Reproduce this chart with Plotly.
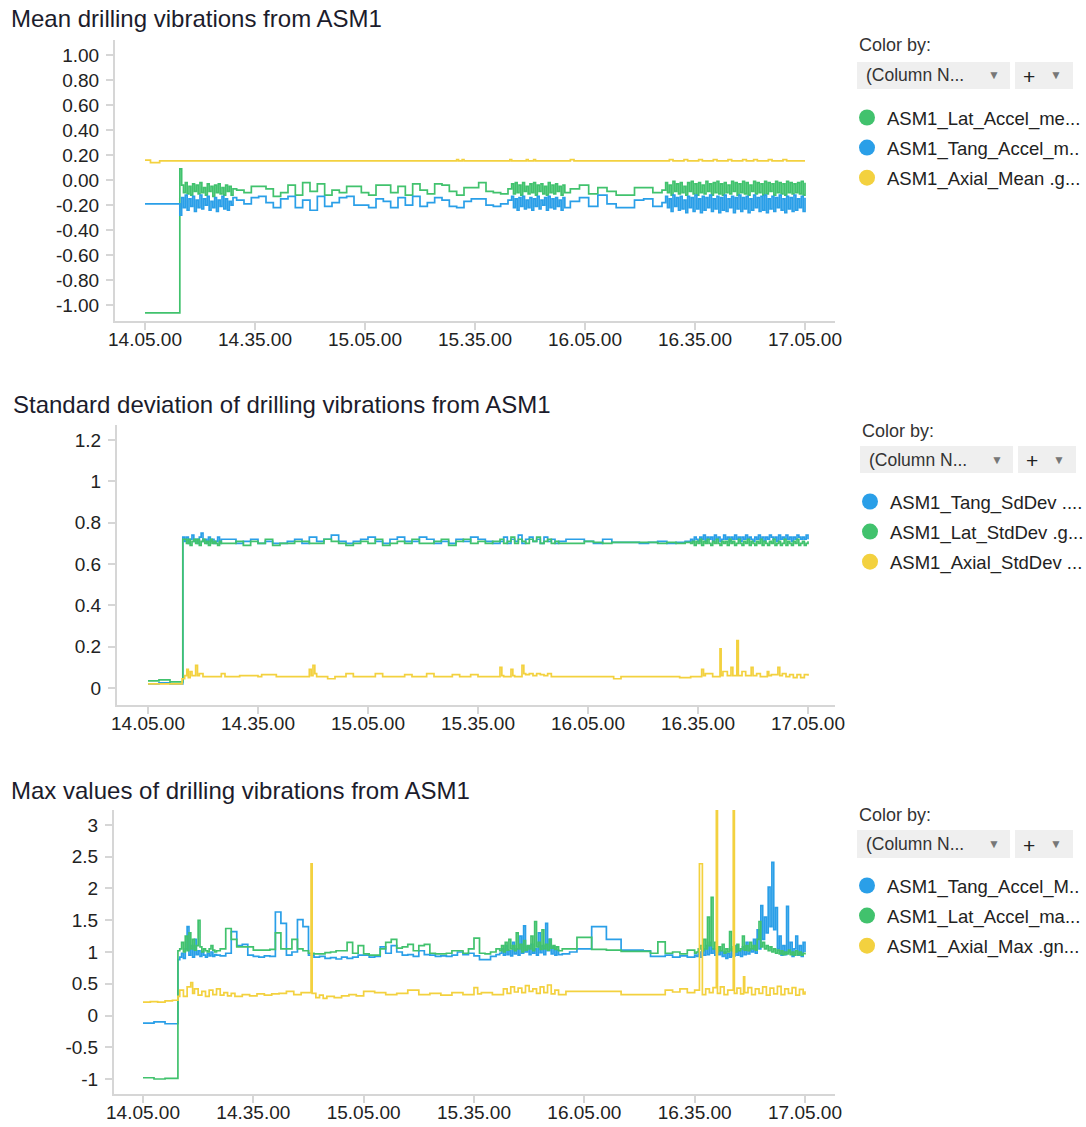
import pandas as pd
import plotly.graph_objects as go

# time axis: minutes after 14:05:00
base = pd.Timestamp('2021-01-01 14:05:00')

# ---- mean values ----
mean_t = [0, 9.5,
          10, 10.5, 11, 11.5, 12, 12.5, 13, 13.5, 14, 14.5, 15, 15.5, 16, 16.5, 17, 17.5, 18, 18.5, 19, 19.5,
          20, 20.5, 21, 21.5, 22, 22.5, 23, 23.5, 24,
          25, 27, 29, 31, 33, 35, 37, 39, 41, 43, 45, 47, 49, 51, 53, 55, 57, 59, 61, 63, 65, 67,
          69, 71, 73, 75, 77, 79, 81, 83, 85, 87, 89, 91, 93, 95, 97, 99,
          100, 100.5, 101, 101.5, 102, 102.5, 103, 103.5, 104, 104.5, 105, 105.5, 106, 106.5, 107, 107.5,
          108, 108.5, 109, 109.5, 110, 110.5, 111, 111.5, 112, 112.5, 113, 113.5, 114, 114.5,
          116, 118.5, 121, 123.5, 126, 128.5, 131, 133.5, 136, 138.5, 141,
          142, 142.5, 143, 143.5, 144, 144.5, 145, 145.5, 146, 146.5, 147, 147.5, 148, 148.5, 149, 149.5,
          150, 150.5, 151, 151.5, 152, 152.5, 153, 153.5, 154, 154.5, 155, 155.5, 156, 156.5, 157, 157.5,
          158, 158.5, 159, 159.5, 160, 160.5, 161, 161.5, 162, 162.5, 163, 163.5, 164, 164.5, 165, 165.5,
          166, 166.5, 167, 167.5, 168, 168.5, 169, 169.5, 170, 170.5, 171, 171.5, 172, 172.5, 173, 173.5,
          174, 174.5, 175, 175.5, 176, 176.5, 177, 177.5, 178, 178.5, 179, 179.5, 180]
mean_lat = [-1.06, 0.09,
            -0.04, -0.10, -0.02, -0.11, -0.05, -0.12, -0.03, -0.09, -0.04, -0.11, -0.02, -0.10, -0.06, -0.12,
            -0.03, -0.09, -0.05, -0.13, -0.04, -0.10, -0.03, -0.11, -0.06, -0.12, -0.04, -0.09, -0.05, -0.12, -0.07,
            -0.08, -0.10, -0.05, -0.05, -0.07, -0.13, -0.10, -0.04, -0.12, -0.02, -0.09, -0.03, -0.12, -0.08,
            -0.10, -0.05, -0.05, -0.10, -0.12, -0.04, -0.04, -0.10,
            -0.05, -0.12, -0.03, -0.08, -0.11, -0.03, -0.04, -0.09, -0.12, -0.06, -0.06, -0.02, -0.09, -0.10, -0.11, -0.07,
            -0.03, -0.11, -0.02, -0.10, -0.04, -0.12, -0.02, -0.09, -0.05, -0.11, -0.03, -0.10, -0.02, -0.12, -0.04,
            -0.09, -0.03, -0.11, -0.05, -0.12, -0.02, -0.10, -0.04, -0.11, -0.03, -0.09, -0.05, -0.12, -0.04, -0.10,
            -0.07, -0.04, -0.11, -0.06, -0.09, -0.12, -0.12, -0.06, -0.06, -0.10, -0.08,
            -0.02, -0.10, -0.04, -0.12, -0.01, -0.09, -0.03, -0.11, -0.02, -0.10,
            -0.05, -0.12, -0.02, -0.09, -0.01, -0.11, -0.03, -0.12, -0.02, -0.10,
            -0.04, -0.11, -0.01, -0.09, -0.03, -0.12, -0.02, -0.10, -0.01, -0.11,
            -0.03, -0.12, -0.02, -0.10, -0.04, -0.11, -0.01, -0.09, -0.02, -0.12,
            -0.03, -0.10, -0.01, -0.11, -0.02, -0.12, -0.04, -0.09, -0.01, -0.11,
            -0.02, -0.10, -0.03, -0.12, -0.01, -0.11, -0.02, -0.09, -0.03, -0.12,
            -0.01, -0.10, -0.02, -0.11, -0.03, -0.12, -0.01, -0.10, -0.02, -0.11,
            -0.03, -0.10, -0.02, -0.11, -0.01, -0.12, -0.02]
mean_tang = [-0.19, -0.28,
             -0.14, -0.22, -0.12, -0.24, -0.15, -0.21, -0.13, -0.25, -0.16, -0.22, -0.12, -0.23, -0.15, -0.20,
             -0.13, -0.24, -0.17, -0.22, -0.14, -0.25, -0.16, -0.21, -0.13, -0.23, -0.15, -0.24, -0.17, -0.20, -0.14,
             -0.16, -0.19, -0.14, -0.13, -0.18, -0.22, -0.15, -0.13, -0.22, -0.16, -0.24, -0.13, -0.21, -0.18,
             -0.14, -0.13, -0.20, -0.20, -0.22, -0.15, -0.17, -0.22,
             -0.14, -0.20, -0.13, -0.21, -0.18, -0.14, -0.16, -0.21, -0.22, -0.17, -0.15, -0.15, -0.20, -0.21, -0.19, -0.16,
             -0.13, -0.22, -0.15, -0.24, -0.14, -0.21, -0.13, -0.23, -0.16, -0.22, -0.14, -0.24, -0.15, -0.21, -0.13,
             -0.23, -0.16, -0.20, -0.14, -0.24, -0.13, -0.22, -0.15, -0.23, -0.14, -0.21, -0.16, -0.24, -0.14, -0.22,
             -0.17, -0.14, -0.21, -0.12, -0.19, -0.22, -0.22, -0.16, -0.15, -0.21, -0.18,
             -0.13, -0.22, -0.15, -0.25, -0.12, -0.21, -0.14, -0.24, -0.13, -0.23,
             -0.16, -0.26, -0.13, -0.22, -0.14, -0.25, -0.12, -0.23, -0.15, -0.26,
             -0.13, -0.24, -0.14, -0.22, -0.12, -0.25, -0.15, -0.23, -0.13, -0.26,
             -0.14, -0.24, -0.12, -0.25, -0.15, -0.22, -0.13, -0.26, -0.14, -0.23,
             -0.12, -0.25, -0.14, -0.23, -0.13, -0.26, -0.15, -0.24, -0.12, -0.22,
             -0.14, -0.25, -0.13, -0.24, -0.12, -0.26, -0.15, -0.23, -0.13, -0.25,
             -0.14, -0.22, -0.12, -0.24, -0.15, -0.26, -0.13, -0.23, -0.14, -0.25,
             -0.12, -0.24, -0.15, -0.22, -0.13, -0.25, -0.14]
mean_axial_t = [0, 1.5, 4, 85, 85.5, 86.5, 87, 99.5, 100, 104, 104.5, 106, 106.5, 116, 117, 143, 144,
                147, 148, 151, 152, 155, 156, 159, 160, 163, 164, 166, 167, 170, 171, 174, 175, 180]
mean_axial = [0.16, 0.14, 0.155, 0.165, 0.155, 0.165, 0.155, 0.165, 0.155, 0.165, 0.155, 0.165, 0.155,
              0.165, 0.155, 0.165, 0.155, 0.165, 0.155, 0.165, 0.155, 0.165, 0.155, 0.165, 0.155, 0.165,
              0.155, 0.165, 0.155, 0.165, 0.155, 0.165, 0.155, 0.155]

# ---- standard deviation ----
std_t = [0, 3, 6, 9.5,
         10, 10.5, 11, 11.5, 12, 12.5, 13, 13.5, 14, 14.5, 15, 15.5, 16, 16.5, 17, 17.5, 18, 18.5, 19, 19.5, 20,
         22, 24, 26, 28, 30, 32, 34, 36, 38, 40, 42, 44, 46, 48, 50, 52, 54, 56, 58, 60, 62, 64, 66, 68,
         70, 72, 74, 76, 78, 80, 82, 84, 86, 88, 90, 92, 94,
         96, 97, 98, 99, 100, 101, 102, 103, 104, 105, 106, 107, 108, 109, 110, 111, 112,
         114, 116.5, 119, 121.5, 124, 126.5, 129, 131.5, 134, 136.5, 139, 141.5, 144, 146.5,
         148, 148.5, 149, 149.5, 150, 150.5, 151, 151.5, 152, 152.5, 153, 153.5, 154, 154.5, 155, 155.5,
         156, 156.5, 157, 157.5, 158, 158.5, 159, 159.5, 160, 160.5, 161, 161.5, 162, 162.5, 163, 163.5,
         164, 164.5, 165, 165.5, 166, 166.5, 167, 167.5, 168, 168.5, 169, 169.5, 170, 170.5, 171, 171.5,
         172, 172.5, 173, 173.5, 174, 174.5, 175, 175.5, 176, 176.5, 177, 177.5, 178, 178.5, 179, 179.5, 180]
std_tang = [0.02, 0.025, 0.02, 0.73,
            .71, .73, .70, .72, .74, .71, .72, .70, .73, .75, .71, .72, .70, .73, .71, .72, .70, .71, .73, .70, .72,
            .72, .70, .71, .72, .70, .71, .70, .70, .71, .72, .70, .73, .71, .72, .74, .71, .70, .71, .72, .73,
            .71, .70, .72, .73, .71, .71, .73, .72, .70, .71, .70, .72, .71, .73, .72, .71, .70,
            .71, .73, .70, .72, .71, .74, .70, .72, .73, .71, .72, .70, .73, .71, .72, .70, .71,
            .72, .72, .71, .70, .72, .705, .705, .705, .70, .705, .71, .70, .705, .71,
            .72, .71, .73, .72, .71, .73, .72, .74, .71, .73, .72, .73, .71, .74, .72, .73, .71, .72, .74, .72,
            .73, .71, .73, .72, .74, .72, .73, .71, .73, .72, .74, .72, .73, .72, .71, .73, .72, .74, .72, .73,
            .71, .73, .72, .74, .73, .72, .73, .71, .74, .72, .73, .72, .74, .72, .73, .71, .73, .72, .74, .73,
            .72, .73, .72, .74, .72]
std_lat = [0.035, 0.04, 0.03, 0.72,
           .72, .70, .72, .69, .71, .72, .70, .72, .69, .71, .72, .70, .71, .69, .72, .70, .71, .70, .69, .71, .70,
           .70, .71, .69, .71, .70, .72, .69, .70, .70, .71, .71, .70, .70, .72, .71, .70, .69, .70, .71, .70,
           .72, .69, .70, .71, .70, .72, .70, .70, .71, .72, .69, .71, .72, .70, .71, .70, .71,
           .72, .70, .71, .73, .70, .72, .71, .70, .72, .71, .73, .70, .71, .72, .70, .71, .70,
           .70, .70, .71, .705, .70, .705, .705, .705, .705, .705, .70, .705, .70, .705,
           .70, .71, .69, .71, .70, .72, .69, .71, .70, .72, .70, .69, .71, .70, .72, .70, .69, .71, .70, .71,
           .69, .72, .70, .71, .69, .70, .72, .70, .69, .71, .70, .72, .69, .71, .70, .69, .71, .70, .72, .69,
           .71, .70, .69, .71, .70, .72, .69, .70, .71, .69, .70, .72, .69, .71, .70, .69, .71, .70, .72, .69,
           .70, .71, .69, .70, .71]
std_axial_t = [0, 9.3, 10, 10.6, 11, 11.5, 12, 13, 13.5, 14, 15, 20, 21, 25, 30, 31, 35, 44, 44.5, 45,
               45.5, 46, 49, 51, 54, 56, 62, 64, 70, 72, 76, 78, 83, 85, 88, 90, 96, 96.5, 97, 99,
               99.5, 100, 102, 102.5, 103, 104, 105, 106, 107, 108, 109, 110, 127, 129, 145, 148, 151, 151.5, 152, 154,
               156, 156.3, 156.8, 158, 159, 159.5, 160.6, 161, 162, 163, 164.5, 165, 166, 167, 168.9, 169.3, 170,
               171.8, 172.3, 173, 174, 175, 176, 177, 178, 179, 180]
std_axial = [0.02, 0.045, 0.06, 0.09, 0.05, 0.08, 0.06, 0.11, 0.06, 0.07, 0.055, 0.07, 0.055, 0.06, 0.055,
             0.065, 0.055, 0.09, 0.06, 0.11, 0.07, 0.055, 0.045, 0.055, 0.07, 0.055, 0.07, 0.055, 0.065, 0.055,
             0.07, 0.055, 0.065, 0.055, 0.065, 0.055, 0.10, 0.06, 0.055, 0.09, 0.06, 0.055, 0.11, 0.07, 0.065,
             0.07, 0.06, 0.07, 0.065, 0.06, 0.07, 0.055, 0.045, 0.055, 0.05, 0.055, 0.09, 0.06, 0.07, 0.055,
             0.19, 0.06, 0.08, 0.06, 0.10, 0.06, 0.23, 0.06, 0.08, 0.06, 0.10, 0.06, 0.07, 0.055, 0.08, 0.06,
             0.065, 0.10, 0.06, 0.07, 0.055, 0.065, 0.05, 0.065, 0.05, 0.065, 0.06]

# ---- max values ----
max_t = [0, 3, 6, 9.5,
         10, 10.5, 11, 11.5, 12, 12.5, 13, 13.5, 14, 14.5, 15, 15.5, 16, 16.5, 17, 17.5, 18, 18.5, 19, 19.5, 20,
         21, 22.5, 24, 25.5, 27, 28.5, 30, 31.5, 33, 34.5, 36, 37.5, 39, 40.5, 42, 43.5, 45, 46.5, 48, 49.5,
         51, 52.5, 54, 55.5, 57, 58.5, 60, 61.5, 63, 64.5, 66, 67.5, 69, 70.5, 72, 73.5, 75, 76.5, 78, 79.5,
         81, 82.5, 84, 85.5, 87, 88.5, 90, 91.5, 93, 94.5, 96,
         97, 97.5, 98, 98.5, 99, 99.5, 100, 100.5, 101, 101.5, 102, 102.5, 103, 103.5, 104, 104.5, 105,
         105.5, 106, 106.5, 107, 107.5, 108, 108.5, 109, 109.5, 110, 110.5, 111, 111.5, 112, 112.5, 113,
         114, 116, 118, 120, 122, 124, 126, 128, 130, 132, 134, 136, 138, 140, 142, 144, 146, 148, 150,
         150.5, 151, 151.5, 152, 152.5, 153, 153.5, 154, 154.5, 155, 155.5, 156, 156.5, 157, 157.5, 158,
         158.5, 159, 159.5, 160, 160.5, 161, 161.5, 162, 162.5, 163, 163.5, 164, 164.5, 165, 165.5, 166,
         166.5, 167, 167.5, 168, 168.5, 169, 169.5, 170, 170.5, 171, 171.5, 172, 172.5, 173, 173.5, 174,
         174.5, 175, 175.5, 176, 176.5, 177, 177.5, 178, 178.5, 179, 179.5, 180]
max_tang = [-0.12, -0.10, -0.13, 0.88,
            0.92, 0.98, 0.90, 1.05, 1.40, 0.95, 1.10, 0.92, 1.20, 0.96, 1.02, 0.93, 1.00, 0.95, 0.92, 0.98,
            0.94, 1.00, 0.93, 0.96, 0.95,
            0.94, 0.98, 1.32, 1.10, 1.12, 0.95, 0.93, 0.92, 0.94, 0.93, 1.63, 1.45, 0.95, 1.00, 1.51,
            1.40, 0.95, 0.92, 0.93, 0.90, 0.91, 0.89, 0.92, 0.90, 0.92, 0.95, 0.95, 0.92, 0.93, 1.08,
            0.98, 1.10, 1.00, 0.95, 0.96, 0.93, 1.02, 0.96, 0.95, 0.93, 0.94, 0.93, 0.95, 1.00, 0.96,
            0.98, 0.94, 0.88, 0.88, 0.93, 0.96,
            0.98, 1.05, 0.95, 1.10, 0.96, 1.02, 0.94, 1.15, 0.97, 1.05, 0.95, 1.25, 0.98, 1.41, 1.00, 1.08,
            0.96, 1.12, 0.98, 1.05, 0.95, 1.30, 0.99, 1.10, 0.96, 1.45, 1.02, 1.20, 0.97, 1.08, 0.95, 1.03, 0.96,
            0.97, 1.00, 1.05, 1.05, 1.40, 1.40, 1.20, 1.20, 1.03, 1.03, 1.03, 1.02, 0.93, 0.93, 0.95, 0.92,
            0.94, 0.92, 0.95,
            0.93, 1.00, 0.92, 1.05, 0.95, 1.10, 0.96, 1.15, 0.98, 1.05, 0.95, 1.08, 0.96, 1.02, 0.93, 1.00,
            0.90, 0.98, 0.92, 1.05, 0.94, 1.10, 0.95, 1.02, 0.93, 1.08, 0.96, 1.15, 0.97, 1.05, 1.00, 1.20,
            0.98, 1.35, 1.05, 1.73, 1.20, 1.55, 1.30, 2.02, 1.40, 2.41, 1.35, 1.70, 1.05, 1.25, 0.95, 1.10,
            0.96, 1.72, 1.00, 1.15, 0.93, 1.05, 1.25, 0.95, 1.10, 0.93, 1.15, 1.00]
max_lat = [-0.98, -1.00, -0.99, 1.02,
           1.05, 1.15, 1.00, 1.25, 1.02, 1.30, 1.05, 1.20, 1.03, 1.10, 1.50, 1.08, 1.00, 1.05, 1.02, 1.00,
           1.05, 1.10, 1.03, 1.00, 1.02,
           1.05, 1.37, 1.20, 1.08, 1.08, 1.08, 1.03, 1.03, 1.03, 1.04, 1.30, 1.05, 1.05, 1.20, 1.05,
           1.02, 0.98, 0.97, 0.97, 0.99, 1.00, 1.02, 1.02, 1.15, 0.98, 1.10, 0.97, 0.95, 0.95, 1.05,
           1.15, 1.20, 1.06, 1.08, 1.12, 1.02, 1.10, 1.12, 0.98, 0.97, 0.97, 0.98, 1.02, 1.02, 0.98,
           1.05, 1.22, 0.98, 0.97, 1.00, 1.05,
           1.02, 1.10, 1.00, 1.15, 1.03, 1.20, 1.05, 1.10, 1.02, 1.30, 1.05, 1.12, 1.00, 1.18, 1.03, 1.10,
           1.05, 1.25, 1.02, 1.48, 1.08, 1.15, 1.04, 1.35, 1.05, 1.12, 1.03, 1.20, 1.06, 1.10, 1.04, 1.08, 1.02,
           1.05, 1.05, 1.23, 1.23, 1.04, 1.04, 1.03, 1.03, 1.01, 1.01, 1.01, 1.01, 0.98, 1.16, 0.98, 1.00,
           0.97, 1.03, 0.98,
           1.00, 1.05, 1.10, 1.02, 1.20, 1.05, 1.55, 1.10, 1.86, 1.05, 1.15, 1.00, 1.08, 1.02, 1.12, 0.98,
           1.05, 1.00, 1.32, 1.02, 1.08, 1.00, 1.12, 1.02, 1.05, 1.25, 1.03, 1.10, 1.02, 1.15, 1.05, 1.10,
           1.03, 1.20, 1.48, 1.08, 1.15, 1.05, 1.10, 1.02, 1.08, 1.00, 1.05, 0.98, 1.03, 0.97, 1.02, 0.96,
           1.00, 0.97, 1.03, 0.96, 1.00, 0.95, 1.02, 0.96, 1.00, 0.95, 0.98, 0.96]
max_axial_t = [0, 2, 4, 6, 8, 9.5, 10, 11, 12, 13, 13.5, 14, 15, 16, 17, 18, 19, 20, 21, 22,
               23, 24, 25, 27, 29, 31, 33, 35, 37, 39, 41, 43, 45.7, 46, 47, 48, 49, 50, 52, 54,
               56, 58, 60, 63, 66, 69, 72, 75, 78, 81, 84, 87, 90, 91, 92, 95, 98, 99, 100, 101,
               102, 103, 104, 105, 106, 107, 108, 109, 110, 111, 112, 113, 115, 130, 140, 142, 144, 146, 148, 150,
               151.3, 152.1, 153, 154, 155, 155.9, 156.2, 157, 158, 159, 160.5, 160.8, 161.5, 162.5, 163.3, 163.6,
               164.5, 165.5, 166.5, 167.5, 168.5, 169.5, 170.5, 171.5, 172.5, 173.5, 174.5, 175.5, 176.5, 177.5,
               178.5, 179.5, 180]
max_axial = [0.21, 0.22, 0.21, 0.23, 0.24, 0.30, 0.40, 0.30, 0.45, 0.52, 0.35, 0.42, 0.32, 0.38, 0.30,
             0.40, 0.33, 0.42, 0.32, 0.36, 0.31, 0.35, 0.30, 0.33, 0.31, 0.34, 0.32, 0.34, 0.35, 0.38,
             0.33, 0.36, 2.39, 0.35, 0.28, 0.32, 0.27, 0.30, 0.28, 0.31, 0.33, 0.31, 0.38, 0.36, 0.33,
             0.35, 0.40, 0.33, 0.35, 0.32, 0.36, 0.33, 0.44, 0.34, 0.36, 0.33, 0.42, 0.35, 0.45, 0.37,
             0.43, 0.36, 0.47, 0.38, 0.42, 0.35, 0.45, 0.36, 0.48, 0.34, 0.40, 0.33, 0.38, 0.33, 0.33,
             0.40, 0.37, 0.42, 0.36, 0.40, 2.39, 0.33, 0.42, 0.36, 0.44, 3.60, 0.35, 0.45, 0.33, 0.40,
             3.60, 0.35, 0.43, 0.34, 0.61, 0.36, 0.44, 0.33, 0.42, 0.35, 0.45, 0.32, 0.43, 0.34, 0.46,
             0.33, 0.42, 0.35, 0.44, 0.32, 0.41, 0.34, 0.38]

GREEN = '#41c26d'
BLUE = '#2a9fe8'
YELLOW = '#f3d13f'
W, H = 1086, 1127
FONT = 'Arial, Liberation Sans, sans-serif'


def px(x):
    return x / W


def py(y):
    return 1 - y / H


def when(minutes):
    return base + pd.to_timedelta(pd.Series(minutes, dtype=float), unit='min')


panels = [
    dict(n='', title='Mean drilling vibrations from ASM1', title_xy=(9, 18),
         xdom=(115, 835), ydom=(40, 321), xr=(-8.18, 188.18), yr=(-1.125, 1.12),
         yticks=[-1, -0.8, -0.6, -0.4, -0.2, 0, 0.2, 0.4, 0.6, 0.8, 1],
         ylabels=['-1.00', '-0.80', '-0.60', '-0.40', '-0.20', '0.00', '0.20', '0.40', '0.60', '0.80', '1.00'],
         series=[(mean_t, mean_lat, GREEN, 'ASM1_Lat_Accel_me...'),
                 (mean_t, mean_tang, BLUE, 'ASM1_Tang_Accel_m..'),
                 (mean_axial_t, mean_axial, YELLOW, 'ASM1_Axial_Mean .g...')],
         legend_x=847, legend_y=99, colorby=(857, 45), box_y=(62, 89), box_x=857),
    dict(n='2', title='Standard deviation of drilling vibrations from ASM1', title_xy=(11, 404),
         xdom=(117, 835), ydom=(425, 705), xr=(-8.45, 187.36), yr=(-0.082, 1.273),
         yticks=[0, 0.2, 0.4, 0.6, 0.8, 1, 1.2],
         ylabels=['0', '0.2', '0.4', '0.6', '0.8', '1', '1.2'],
         series=[(std_t, std_tang, BLUE, 'ASM1_Tang_SdDev ....'),
                 (std_t, std_lat, GREEN, 'ASM1_Lat_StdDev .g...'),
                 (std_axial_t, std_axial, YELLOW, 'ASM1_Axial_StdDev ...')],
         legend_x=850, legend_y=483, colorby=(860, 431), box_y=(446, 473), box_x=860),
    dict(n='3', title='Max values of drilling vibrations from ASM1', title_xy=(9, 790),
         xdom=(114, 835), ydom=(810, 1094), xr=(-7.88, 188.16), yr=(-1.236, 3.236),
         yticks=[-1, -0.5, 0, 0.5, 1, 1.5, 2, 2.5, 3],
         ylabels=['-1', '-0.5', '0', '0.5', '1', '1.5', '2', '2.5', '3'],
         series=[(max_t, max_tang, BLUE, 'ASM1_Tang_Accel_M..'),
                 (max_t, max_lat, GREEN, 'ASM1_Lat_Accel_ma...'),
                 (max_axial_t, max_axial, YELLOW, 'ASM1_Axial_Max .gn...')],
         legend_x=847, legend_y=867, colorby=(857, 815), box_y=(830, 858), box_x=857),
]

xtick_min = [0, 30, 60, 90, 120, 150, 180]
xtick_text = ['14.05.00', '14.35.00', '15.05.00', '15.35.00', '16.05.00', '16.35.00', '17.05.00']

fig = go.Figure()
annotations, shapes = [], []
layout = dict(width=W, height=H, margin=dict(l=0, r=0, t=0, b=0, autoexpand=False),
              paper_bgcolor='white', plot_bgcolor='white',
              font=dict(family=FONT, size=18, color='#222222'), showlegend=True)

for p in panels:
    n = p['n']
    xa, ya = 'x' + n, 'y' + n
    leg = 'legend' + n
    for i, (t, v, c, name) in enumerate(p['series']):
        assert len(t) == len(v), (name, len(t), len(v))
        fig.add_trace(go.Scatter(x=when(t), y=v, mode='lines', line=dict(color=c, width=1.7, shape='hv'),
                                 xaxis=xa, yaxis=ya, showlegend=False, hoverinfo='skip'))
    for i, (t, v, c, name) in enumerate(p['series']):
        fig.add_trace(go.Scatter(x=[None], y=[None], mode='markers', name=name,
                                 marker=dict(color=c, size=17, line=dict(width=0)),
                                 xaxis=xa, yaxis=ya, legend=leg, legendgroup=n + str(i)))
    axis_common = dict(showline=True, linecolor='#d6d6d6', linewidth=2, ticks='outside', ticklen=7,
                       tickcolor='#d6d6d6', tickwidth=1.5, showgrid=False, zeroline=False,
                       automargin=False, tickfont=dict(family=FONT, size=19, color='#222222'),
                       fixedrange=True)
    layout['xaxis' + n] = dict(axis_common, domain=[px(p['xdom'][0]), px(p['xdom'][1])], anchor=ya,
                               type='date', range=[base + pd.Timedelta(minutes=p['xr'][0]),
                                                   base + pd.Timedelta(minutes=p['xr'][1])],
                               tickmode='array', tickvals=list(when(xtick_min)), ticktext=xtick_text,
                               ticklabelstandoff=-7)
    layout['yaxis' + n] = dict(axis_common, domain=[py(p['ydom'][1]), py(p['ydom'][0])], anchor=xa,
                               range=list(p['yr']), tickmode='array', tickvals=p['yticks'],
                               ticktext=p['ylabels'], ticklabelstandoff=3)
    layout[leg] = dict(x=px(p['legend_x']), y=py(p['legend_y']), xanchor='left', yanchor='top',
                       font=dict(family=FONT, size=18.5, color='#222222'), tracegroupgap=3,
                       bgcolor='rgba(0,0,0,0)', itemclick=False, itemdoubleclick=False)
    tx, ty = p['title_xy']
    annotations.append(dict(text=p['title'], x=px(tx), y=py(ty), xref='paper', yref='paper',
                            xanchor='left', yanchor='middle', showarrow=False,
                            font=dict(family=FONT, size=24, color='#1c1c2c')))
    cx, cy = p['colorby']
    annotations.append(dict(text='Color by:', x=px(cx), y=py(cy), xref='paper', yref='paper',
                            xanchor='left', yanchor='middle', showarrow=False,
                            font=dict(family=FONT, size=18, color='#333333')))
    y0, y1 = p['box_y']
    bx = p['box_x']
    ym = (y0 + y1) / 2
    shapes.append(dict(type='rect', xref='paper', yref='paper', x0=px(bx), x1=px(bx + 153),
                       y0=py(y1), y1=py(y0), fillcolor='#efefef', line=dict(width=0), layer='below'))
    shapes.append(dict(type='rect', xref='paper', yref='paper', x0=px(bx + 158), x1=px(bx + 216),
                       y0=py(y1), y1=py(y0), fillcolor='#efefef', line=dict(width=0), layer='below'))
    annotations.append(dict(text='(Column N...', x=px(bx + 7), y=py(ym), xref='paper', yref='paper',
                            xanchor='left', yanchor='middle', showarrow=False,
                            font=dict(family=FONT, size=17.5, color='#333333')))
    annotations.append(dict(text='▼', x=px(bx + 137), y=py(ym), xref='paper', yref='paper',
                            xanchor='center', yanchor='middle', showarrow=False,
                            font=dict(family=FONT, size=12, color='#777777')))
    annotations.append(dict(text='+', x=px(bx + 172), y=py(ym + 1), xref='paper', yref='paper',
                            xanchor='center', yanchor='middle', showarrow=False,
                            font=dict(family=FONT, size=21, color='#222222')))
    annotations.append(dict(text='▼', x=px(bx + 199), y=py(ym), xref='paper', yref='paper',
                            xanchor='center', yanchor='middle', showarrow=False,
                            font=dict(family=FONT, size=12, color='#777777')))

layout['annotations'] = annotations
layout['shapes'] = shapes
fig.update_layout(**layout)
# the page itself should not add a margin around the figure
fig.write_html('out.html', config={'displayModeBar': False},
               post_script="document.body.style.margin='0';")
